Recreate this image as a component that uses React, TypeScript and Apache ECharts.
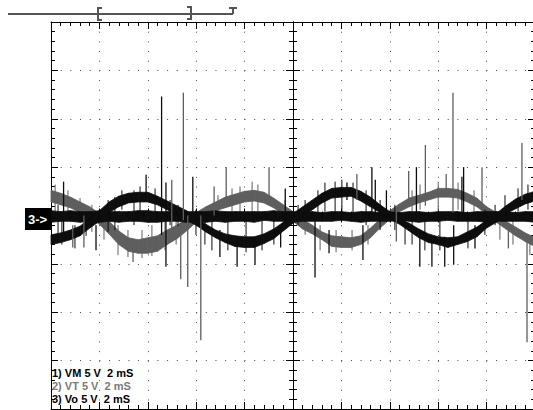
import React, { useEffect, useRef } from 'react';
import * as echarts from 'echarts';

// Sampling instants (ms), 2 ms/div, 10 divisions
const TIME_MS = [0, 0.4, 0.8, 1.2, 1.6, 2, 2.4, 2.8, 3.2, 3.6, 4, 4.4, 4.8, 5.2, 5.6, 6, 6.4, 6.8, 7.2, 7.6, 8, 8.4, 8.8, 9.2, 9.6, 10, 10.4, 10.8, 11.2, 11.6, 12, 12.4, 12.8, 13.2, 13.6, 14, 14.4, 14.8, 15.2, 15.6, 16, 16.4, 16.8, 17.2, 17.6, 18, 18.4, 18.8, 19.2, 19.6, 20];

// Channel 1 (VM), upper / lower edge of the noisy trace (V)
const VM_MAX = [-2.0, -1.8, -1.5, -1.1, -0.3, 0.5, 1.4, 2.0, 2.3, 2.4, 2.4, 2.0, 1.5, 1.0, 0.5, -0.2, -0.9, -1.5, -1.9, -2.1, -2.2, -2.2, -1.9, -1.4, -0.7, 0.2, 0.9, 1.6, 2.3, 2.8, 2.9, 2.9, 2.5, 1.9, 1.1, 0.4, -0.3, -0.8, -1.4, -1.9, -2.2, -2.3, -2.2, -1.7, -1.2, -0.5, 0.2, 1.0, 1.7, 2.2, 2.5];
const VM_MIN = [-3.0, -2.8, -2.5, -2.1, -1.3, -0.6, 0.3, 0.9, 1.3, 1.4, 1.4, 1.1, 0.6, 0.1, -0.5, -1.0, -1.7, -2.3, -2.8, -3.2, -3.3, -3.3, -2.9, -2.4, -1.6, -0.8, -0.1, 0.6, 1.3, 1.8, 1.9, 2.0, 1.5, 0.9, 0.3, -0.4, -0.9, -1.6, -2.3, -2.8, -3.0, -3.3, -3.0, -2.7, -2.2, -1.3, -0.7, 0.2, 0.7, 1.2, 1.5];

// Channel 2 (VT)
const VT_MAX = [2.6, 2.3, 1.9, 1.4, 0.9, 0.2, -0.6, -1.6, -2.3, -2.5, -2.3, -2.1, -1.5, -1.0, -0.4, 0.3, 0.9, 1.4, 1.9, 2.2, 2.5, 2.6, 2.4, 1.8, 1.1, 0.4, -0.4, -1.0, -1.7, -2.1, -2.2, -2.3, -2.1, -1.3, -0.4, 0.5, 1.2, 1.8, 2.1, 2.4, 2.8, 2.8, 2.7, 2.3, 1.8, 0.9, 0.3, -0.6, -1.2, -1.8, -2.3];
const VT_MIN = [1.4, 1.1, 0.8, 0.3, -0.2, -0.9, -1.9, -3.0, -3.7, -3.9, -3.9, -3.7, -3.0, -2.4, -1.6, -0.7, 0.1, 0.5, 0.8, 1.1, 1.4, 1.5, 1.3, 0.8, 0.1, -0.6, -1.4, -1.9, -2.5, -3.2, -3.3, -3.3, -3.0, -2.3, -1.3, -0.4, 0.4, 0.9, 1.3, 1.6, 1.9, 1.9, 1.8, 1.4, 0.9, 0.1, -0.7, -1.4, -2.1, -2.7, -3.2];

// Channel 3 (Vo)
const VO_MAX = [0.5, 0.4, 0.5, 0.4, 0.4, 0.5, 0.4, 0.4, 0.4, 0.5, 0.5, 0.4, 0.4, 0.5, 0.4, 0.4, 0.4, 0.5, 0.4, 0.4, 0.4, 0.4, 0.4, 0.5, 0.4, 0.4, 0.4, 0.4, 0.3, 0.4, 0.4, 0.3, 0.4, 0.4, 0.3, 0.4, 0.3, 0.4, 0.4, 0.3, 0.4, 0.4, 0.4, 0.3, 0.4, 0.4, 0.4, 0.4, 0.3, 0.4, 0.4];
const VO_MIN = [-0.7, -0.6, -0.6, -0.7, -0.6, -0.7, -0.6, -0.7, -0.6, -0.6, -0.7, -0.7, -0.6, -0.6, -0.7, -0.6, -0.7, -0.6, -0.7, -0.6, -0.6, -0.7, -0.5, -0.6, -0.6, -0.7, -0.6, -0.6, -0.6, -0.6, -0.5, -0.6, -0.7, -0.6, -0.6, -0.6, -0.5, -0.6, -0.7, -0.6, -0.6, -0.5, -0.6, -0.6, -0.6, -0.7, -0.6, -0.6, -0.6, -0.6, -0.7];

// Large switching spikes: [time ms, top V, bottom V]
const BLACK_SPIKES = [
  [0.52, 3.5, -2.0], [1.86, -1.0, -3.6], [3.93, 4.2, 1.6], [4.57, 12.3, -2.0], [4.75, 3.4, -5.3],
  [5.86, 4.0, 0.0], [6.98, -1.5, -4.3], [7.69, -2.5, -5.3], [8.43, -2.3, -5.1], [9.49, -1.0, -3.3],
  [9.68, 2.8, -1.0], [10.91, 0.0, -6.4], [11.49, -1.5, -3.9], [12.23, 3.4, 1.6], [12.89, -1.0, -4.6],
  [13.26, 5.0, 0.0], [13.4, 3.7, 0.0], [13.86, 2.6, 0.0], [15.1, 5.0, 0.0], [15.24, -1.5, -5.3],
  [15.74, -2.2, -5.3], [16.27, -2.2, -5.3], [16.64, -1.0, -5.1], [16.98, 4.0, 0.0], [17.05, 5.0, 0.0],
  [17.52, -1.0, -3.4],
];
const GREY_SPIKES = [
  [0.9, -1.0, -3.3], [1.36, 0.0, -3.3], [3.39, -2.5, -4.8], [4.99, 3.7, -1.5], [5.36, -1.0, -6.6],
  [5.47, 12.7, -0.5], [5.65, 0.0, -7.4], [6.19, 0.0, -12.9], [6.74, 3.0, 0.0], [7.24, 5.0, 1.6],
  [9.01, 5.0, 1.6], [12.64, 4.3, 1.6], [14.27, 0.5, -2.7], [14.78, 4.6, 1.0], [15.47, 7.3, 1.0],
  [16.33, 4.3, 2.0], [16.61, 12.7, 0.3], [17.81, 5.0, 1.0], [18.9, -1.0, -3.4], [19.46, 7.5, 1.6],
  [19.67, -2.3, -13.1],
];

// Short noise hairs around the traces: [time ms, top V, bottom V]
const BLACK_HAIRS = [
  [0.29, 1.1, -2.5], [0.45, 0.3, -3.0], [0.99, -1.0, -3.4], [1.45, 0.0, -2.1], [2.36, 1.6, -1.7],
  [2.64, 1.9, -1.5], [2.93, 2.6, 0.6], [3.43, 2.6, -1.0], [3.68, 3.0, 0.0], [4.3, 2.8, -0.5],
  [4.92, 1.6, -1.0], [5.25, 1.1, -1.1], [5.99, 0.6, -2.0], [6.36, 0.0, -3.0], [6.65, 0.0, -3.6],
  [7.31, 0.0, -3.6], [8.06, -0.5, -3.8], [8.72, 0.0, -3.6], [9.21, 0.0, -3.0], [10.21, 1.1, -1.0],
  [10.5, 1.6, -0.7], [11.03, 2.6, 0.0], [11.32, 3.4, 0.4], [11.74, 3.5, 0.0], [12.02, 3.7, 0.0],
  [12.48, 3.4, 0.0], [13.02, 2.6, -1.0], [13.6, 1.6, -1.5], [14.21, 1.1, -1.5], [14.63, 0.3, -3.0],
  [14.92, 0.0, -3.0], [15.45, -0.5, -3.6], [16.07, -0.5, -3.6], [17.23, 0.0, -3.4], [17.93, 0.6, -2.0],
  [18.35, 1.1, -1.0], [18.76, 2.1, 0.0], [19.3, 2.8, 0.4], [19.71, 3.2, 0.6],
];
const GREY_HAIRS = [
  [0.17, 3.2, 0.0], [0.7, 2.6, 0.4], [1.2, 1.8, -0.7], [1.69, 1.1, -1.7], [2.19, 0.0, -2.5],
  [2.77, -1.0, -4.1], [3.18, -1.5, -4.3], [3.76, -1.5, -4.4], [4.17, -1.0, -4.2], [4.71, -0.5, -3.6],
  [5.17, -0.3, -3.0], [6.9, 2.1, 0.0], [7.48, 2.8, 0.4], [7.81, 3.0, 0.0], [8.31, 3.5, 0.0],
  [8.55, 3.2, 0.4], [9.67, 1.6, -0.5], [10.5, -0.5, -2.0], [11.12, -1.0, -3.6], [11.78, -1.5, -3.8],
  [12.44, -1.5, -3.6], [13.1, -1.0, -3.0], [14.92, 2.6, 0.0], [15.25, 3.2, 0.6], [16.0, 3.5, 0.4],
  [16.82, 3.4, 0.6], [17.48, 2.6, 0.0], [18.55, -0.3, -2.5], [19.09, -0.5, -3.0], [19.79, -2.0, -4.1],
];

const CHANNEL_LABELS = ['1) VM 5 V  2 mS', '2) VT 5 V  2 mS', '3) Vo 5 V  2 mS'];
const CHANNEL_COLORS = ['#000000', '#7a7a7a', '#000000'];
const TRACE_BLACK = '#0d0d0d';
const TRACE_GREY = '#5e5e5e';

function bandSeries(name: string, maxArr: number[], minArr: number[], color: string) {
  const data = TIME_MS.slice(0, -1).map((t, i) => [t, maxArr[i], minArr[i], TIME_MS[i + 1], maxArr[i + 1], minArr[i + 1]]);
  return {
    type: 'custom',
    name,
    silent: true,
    xAxisIndex: 0,
    yAxisIndex: 0,
    data,
    renderItem: (_p: any, api: any) => {
      const a = api.coord([api.value(0), api.value(1)]);
      const b = api.coord([api.value(3), api.value(4)]);
      const c = api.coord([api.value(3), api.value(5)]);
      const d = api.coord([api.value(0), api.value(2)]);
      return {
        type: 'polygon',
        shape: { points: [a, b, c, d] },
        style: { fill: color, stroke: color, lineWidth: 0.8 },
      };
    },
  };
}

function spikeSeries(name: string, spikes: number[][], color: string, width: number) {
  return {
    type: 'custom',
    name,
    silent: true,
    xAxisIndex: 0,
    yAxisIndex: 0,
    data: spikes,
    renderItem: (_p: any, api: any) => {
      const a = api.coord([api.value(0), api.value(1)]);
      const b = api.coord([api.value(0), api.value(2)]);
      return {
        type: 'line',
        shape: { x1: a[0], y1: a[1], x2: b[0], y2: b[1] },
        style: { stroke: color, lineWidth: width },
      };
    },
  };
}

const tickStyle = { color: '#000', width: 1 };

function xAx(position: string, offset: number, inside: boolean, split: boolean) {
  return {
    type: 'value', min: 0, max: 20, interval: 2, position, offset,
    axisLine: { show: true, onZero: false, lineStyle: tickStyle },
    axisTick: { show: true, inside, length: 7, lineStyle: tickStyle },
    minorTick: { show: true, splitNumber: 5, length: 4, lineStyle: tickStyle },
    axisLabel: { show: false },
    splitLine: split ? { show: true, lineStyle: { color: '#4a4a4a', width: 1, type: [1, 8.68] } } : { show: false },
  };
}
function yAx(position: string, offset: number, inside: boolean, split: boolean) {
  return {
    type: 'value', min: -20, max: 20, interval: 5, position, offset,
    axisLine: { show: true, onZero: false, lineStyle: tickStyle },
    axisTick: { show: true, inside, length: 7, lineStyle: tickStyle },
    minorTick: { show: true, splitNumber: 5, length: 4, lineStyle: tickStyle },
    axisLabel: { show: false },
    splitLine: split ? { show: true, lineStyle: { color: '#4a4a4a', width: 1, type: [1, 8.675] } } : { show: false },
  };
}

export default function App() {
  const ref = useRef<HTMLDivElement>(null);
  useEffect(() => {
    if (!ref.current) return;
    const chart = echarts.init(ref.current, undefined, { renderer: 'svg' });
    const barStyle = { stroke: '#555', lineWidth: 2, fill: 'none' };
    chart.setOption({
      animation: false,
      backgroundColor: '#fff',
      grid: { left: 51, top: 22, width: 484, height: 387, outerBoundsMode: 'none' },
      xAxis: [
        xAx('top', 0, true, true),
        xAx('bottom', -193.5, true, false),
        xAx('bottom', -193.5, false, false),
        xAx('bottom', 0, true, false),
      ],
      yAxis: [
        yAx('left', 0, true, true),
        yAx('left', -242, true, false),
        yAx('left', -242, false, false),
        yAx('right', 0, true, false),
      ],
      series: [
        spikeSeries('VT noise', GREY_HAIRS, TRACE_GREY, 1),
        bandSeries('VT', VT_MAX, VT_MIN, TRACE_GREY),
        spikeSeries('VM noise', BLACK_HAIRS, TRACE_BLACK, 1),
        bandSeries('Vo', VO_MAX, VO_MIN, TRACE_BLACK),
        bandSeries('VM', VM_MAX, VM_MIN, TRACE_BLACK),
        spikeSeries('VT spikes', GREY_SPIKES, TRACE_GREY, 1.3),
        spikeSeries('VM spikes', BLACK_SPIKES, TRACE_BLACK, 1.3),
      ],
      graphic: [
        { type: 'line', shape: { x1: 8, y1: 14, x2: 233, y2: 14 }, style: barStyle },
        { type: 'polyline', shape: { points: [[102, 8], [98, 8], [98, 20], [102, 20]] }, style: barStyle },
        { type: 'polyline', shape: { points: [[187, 7], [191, 7], [191, 19], [187, 19]] }, style: barStyle },
        { type: 'line', shape: { x1: 233, y1: 8, x2: 233, y2: 14 }, style: barStyle },
        { type: 'line', shape: { x1: 229, y1: 8, x2: 237, y2: 8 }, style: barStyle },
        { type: 'rect', shape: { x: 25, y: 208, width: 26, height: 22 }, style: { fill: '#000' } },
        {
          type: 'text', x: 28, y: 219,
          style: { text: '3->', fill: '#fff', fontSize: 13, fontWeight: 'bold', fontFamily: 'Liberation Sans', verticalAlign: 'middle' },
        },
        ...CHANNEL_LABELS.map((t, i) => ({
          type: 'text', x: 52, y: 373 + i * 13, z: 10,
          style: { text: t, fill: CHANNEL_COLORS[i], fontSize: 11, fontWeight: 'bold', fontFamily: 'Liberation Sans', verticalAlign: 'middle' },
        })),
      ],
    });
    return () => chart.dispose();
  }, []);
  return <div ref={ref} style={{ position: 'fixed', left: 0, top: 0, width: 533, height: 410, background: '#fff' }} />;
}
